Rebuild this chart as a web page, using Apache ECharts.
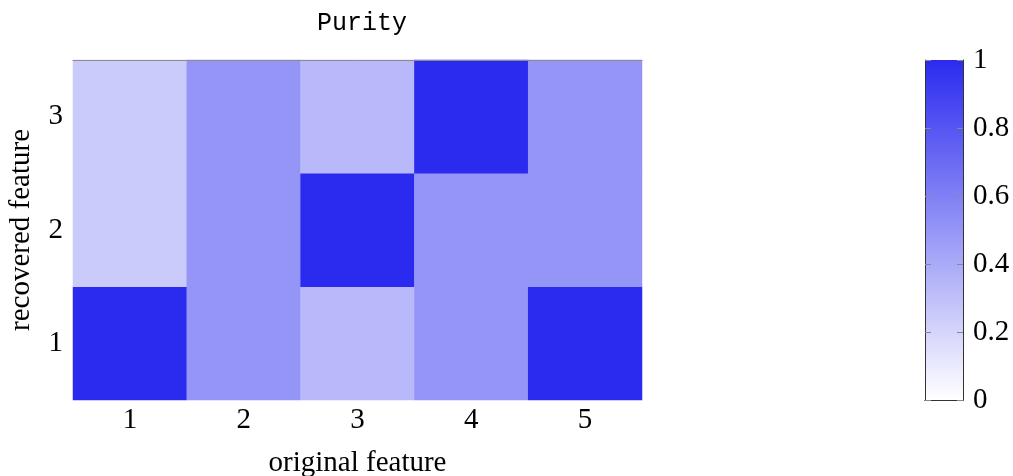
<!DOCTYPE html>
<html>
<head>
<meta charset="utf-8">
<script src="https://cdn.jsdelivr.net/npm/echarts@6/dist/echarts.min.js"></script>
<style>
html, body { margin: 0; padding: 0; background: #fff; }
#chart { width: 1013px; height: 476px; }
</style>
</head>
<body>
<div id="chart"></div>
<script>
// Purity of each recovered feature against each original feature
const originalFeatures = ['1', '2', '3', '4', '5'];
const recoveredFeatures = ['1', '2', '3'];
// one row per recovered feature (1..3), one value per original feature (1..5)
const purityRecovered1 = [1.0, 0.5, 1 / 3, 0.5, 1.0];
const purityRecovered2 = [0.25, 0.5, 1.0, 0.5, 0.5];
const purityRecovered3 = [0.25, 0.5, 1 / 3, 1.0, 0.5];
const colorbarTicks = [0, 0.2, 0.4, 0.6, 0.8, 1];

const rows = [purityRecovered1, purityRecovered2, purityRecovered3];
const cells = [];
rows.forEach((row, r) => row.forEach((v, c) => cells.push([c, r, v])));

const serif = '"Liberation Serif", "DejaVu Serif", serif';
const fs = 29;
const lowColor = '#ffffff';
const highColor = '#2b2bef';

const chart = echarts.init(document.getElementById('chart'), null, { renderer: 'canvas' });
chart.setOption({
  animation: false,
  title: {
    text: 'Purity',
    left: 357, top: 6, textAlign: 'center',
    textStyle: { fontFamily: '"Liberation Mono", "DejaVu Sans Mono", monospace', fontSize: 25, fontWeight: 'normal', color: '#000' }
  },
  grid: [
    { left: 73, top: 60, width: 569, height: 340, containLabel: false, outerBoundsMode: 'none' },
    { left: 925, top: 60, width: 38, height: 340, containLabel: false, outerBoundsMode: 'none' }
  ],
  xAxis: [
    {
      type: 'category', gridIndex: 0, data: originalFeatures, position: 'bottom',
      name: 'original feature', nameLocation: 'middle', nameGap: 49,
      nameTextStyle: { fontFamily: serif, fontSize: fs, color: '#000' },
      axisLine: { show: false }, axisTick: { show: false },
      axisLabel: { fontFamily: serif, fontSize: fs, color: '#000', margin: 6 },
      splitLine: { show: false }
    },
    {
      type: 'category', gridIndex: 0, data: originalFeatures, position: 'top', z: 10,
      axisLine: { show: true, lineStyle: { color: '#8c8c8c', width: 1 } },
      axisTick: { show: false }, axisLabel: { show: false }
    },
    {
      type: 'category', gridIndex: 1, data: ['c'], position: 'bottom', z: 10,
      axisLine: { show: true, lineStyle: { color: '#333', width: 1 } },
      axisTick: { show: false }, axisLabel: { show: false }
    },
    {
      type: 'category', gridIndex: 1, data: ['c'], position: 'top', z: 10,
      axisLine: { show: true, lineStyle: { color: '#333', width: 1 } },
      axisTick: { show: false }, axisLabel: { show: false }
    }
  ],
  yAxis: [
    {
      type: 'category', gridIndex: 0, data: recoveredFeatures,
      name: 'recovered feature', nameLocation: 'middle', nameGap: 37, nameRotate: 90,
      nameTextStyle: { fontFamily: serif, fontSize: fs, color: '#000' },
      axisLine: { show: false }, axisTick: { show: false },
      axisLabel: { fontFamily: serif, fontSize: fs, color: '#000', margin: 10 },
      splitLine: { show: false }
    },
    {
      type: 'value', gridIndex: 1, min: 0, max: 1, interval: 0.2, position: 'right', z: 10,
      axisLine: { show: true, lineStyle: { color: '#333', width: 1 } },
      axisTick: { show: true, inside: true, length: 6, lineStyle: { color: '#888' } },
      axisLabel: {
        fontFamily: serif, fontSize: fs, color: '#000', margin: 10,
        formatter: v => colorbarTicks.some(t => Math.abs(t - v) < 1e-9) ? String(+v.toFixed(1)) : ''
      },
      splitLine: { show: false }
    },
    {
      type: 'value', gridIndex: 1, min: 0, max: 1, interval: 0.2, position: 'left', z: 10,
      axisLine: { show: true, lineStyle: { color: '#333', width: 1 } },
      axisTick: { show: true, inside: true, length: 6, lineStyle: { color: '#888' } },
      axisLabel: { show: false },
      splitLine: { show: false }
    }
  ],
  visualMap: {
    show: false, type: 'continuous', min: 0, max: 1, seriesIndex: 0, dimension: 2,
    inRange: { color: [lowColor, highColor] }
  },
  series: [
    {
      type: 'heatmap', xAxisIndex: 0, yAxisIndex: 0, data: cells,
      itemStyle: { borderWidth: 0 }
    },
    {
      type: 'bar', xAxisIndex: 2, yAxisIndex: 1, data: [1], barWidth: '100%',
      itemStyle: {
        color: new echarts.graphic.LinearGradient(0, 0, 0, 1, [
          { offset: 0, color: highColor },
          { offset: 1, color: lowColor }
        ])
      },
      z: 1
    }
  ]
});
</script>
</body>
</html>
